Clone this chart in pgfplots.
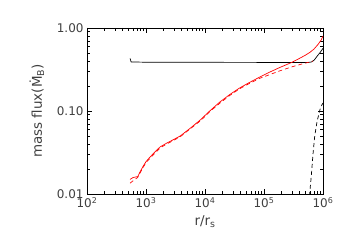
\documentclass[border=0pt]{standalone}
\usepackage{pgfplots}
\pgfplotsset{compat=1.18}
\usepackage{fontspec}
\setmainfont{DejaVu Sans}
\begin{document}
\begin{tikzpicture}
\begin{axis}[
  at={(0,0)}, anchor=south west,
  scale only axis, width=236bp, height=166bp,
  xmode=log, ymode=log,
  xmin=100, xmax=1e6, ymin=0.01, ymax=1,
  xtick={100,1000,10000,100000,1000000},
  xticklabels={10\textsuperscript{2},10\textsuperscript{3},10\textsuperscript{4},10\textsuperscript{5},10\textsuperscript{6}},
  ytick={0.01,0.1,1},
  yticklabels={0.01,0.10,1.00},
  tick align=inside,
  major tick length=5bp, minor tick length=3bp,
  tick style={black, line width=0.6pt},
  axis line style={line width=0.9pt},
  ticklabel style={font=\fontsize{12}{14}\selectfont, text=black!75},
  label style={font=\fontsize{13.5}{15}\selectfont, text=black!75},
  xlabel={r/r\textsubscript{s}},
  ylabel={mass flux(\.{M}\textsubscript{B})},
  xlabel style={yshift=-1bp},
  ylabel style={yshift=6bp},
  clip=true,
]
\addplot[black, line width=0.7pt] coordinates {
(537,0.43) (560,0.39) (1000,0.387) (10000,0.386) (100000,0.385) (575000,0.385)
(640000,0.39) (708000,0.41) (800000,0.46) (900000,0.51) (1000000,0.57)};
\addplot[black, line width=0.7pt, dash pattern=on 4bp off 3bp] coordinates {
(589000,0.0095) (631000,0.016) (676000,0.030) (724000,0.050) (794000,0.075) (891000,0.105) (955000,0.118) (1000000,0.125)};
\addplot[red, line width=0.7pt] coordinates {
(537,0.0150) (603,0.0158) (724,0.0162) (794,0.0185) (891,0.0215) (1000,0.0245)
(1175,0.028) (1413,0.032) (1738,0.037) (2239,0.041) (2884,0.045) (3802,0.050)
(5623,0.062) (8318,0.078) (12023,0.100) (17783,0.128) (26303,0.158) (38905,0.190)
(57544,0.222) (85114,0.257) (125893,0.295) (186209,0.335) (295121,0.385)
(398107,0.43) (501187,0.47) (602560,0.51) (707946,0.56) (831764,0.64) (933254,0.72) (1000000,0.80)};
\addplot[red, line width=0.7pt, dash pattern=on 4bp off 3bp] coordinates {
(537,0.0135) (630,0.0148) (724,0.0158) (794,0.0180) (891,0.0208) (1000,0.0240)
(1175,0.027) (1413,0.031) (1738,0.036) (2239,0.040) (2884,0.044) (3802,0.049)
(5623,0.061) (8318,0.076) (12023,0.098) (17783,0.124) (26303,0.154) (38905,0.186)
(57544,0.216) (85114,0.248) (125893,0.275) (186209,0.305) (295121,0.34)
(446684,0.37) (602560,0.39) (676000,0.40)};
\end{axis}
\path[use as bounding box] (-87bp,-56bp) rectangle (263bp,194bp);
\end{tikzpicture}
\end{document}
